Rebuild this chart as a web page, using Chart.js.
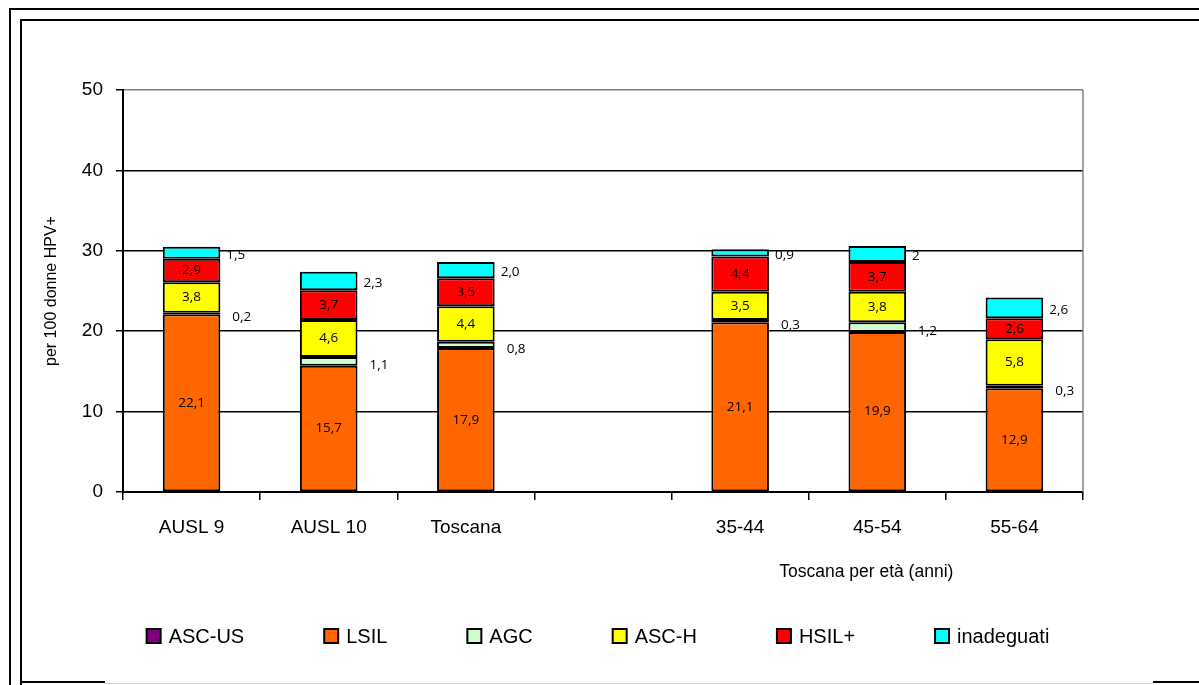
<!DOCTYPE html>
<html lang="it">
<head>
<meta charset="UTF-8"/>
<title>Esiti citologici - donne HPV+</title>
<script src="https://cdn.jsdelivr.net/npm/chart.js"></script>
<style>
    html, body { margin: 0; padding: 0; background: #fff; }
    canvas { display: block; }
</style>
</head>
<body>
<canvas id="grafico" width="1199" height="685"></canvas>

<script>
// dati (per 100 donne HPV+)
const categorie = ['AUSL 9', 'AUSL 10', 'Toscana', '', '35-44', '45-54', '55-64'];
const ascUs      = [0, 0, 0, null, 0, 0, 0];
const lsil       = [22.1, 15.7, 17.9, null, 21.1, 19.9, 12.9];
const agc        = [0.2, 1.1, 0.8, null, 0.3, 1.2, 0.3];
const ascH       = [3.8, 4.6, 4.4, null, 3.5, 3.8, 5.8];
const hsil       = [2.9, 3.7, 3.5, null, 4.4, 3.7, 2.6];
const inadeguati = [1.5, 2.3, 2.0, null, 0.9, 2, 2.6];
const testiInadeguati = ['1,5', '2,3', '2,0', '', '0,9', '2', '2,6'];
const tickY = [0, 10, 20, 30, 40, 50];

const FONT = "'Liberation Sans', Arial, sans-serif";

function formatta(v) {
    return v.toFixed(1).replace('.', ',');
}

// cornici, titoli, legenda ed etichette disegnati a mano
const decorazioni = {
    id: 'decorazioni',
    beforeDraw(chart) {
        const c = chart.ctx;
        c.save();
        c.fillStyle = '#fff';
        c.fillRect(0, 0, chart.width, chart.height);
        c.strokeStyle = '#000';
        c.lineWidth = 2;
        c.beginPath();
        c.moveTo(10, 685); c.lineTo(10, 9); c.lineTo(1199, 9);
        c.moveTo(21, 685); c.lineTo(21, 20); c.lineTo(1199, 20);
        c.moveTo(21, 682); c.lineTo(105, 682);
        c.moveTo(1153, 682); c.lineTo(1199, 682);
        c.stroke();
        c.strokeStyle = '#d0d0d0';
        c.lineWidth = 1;
        c.beginPath();
        c.moveTo(105, 683.5); c.lineTo(1153, 683.5);
        c.stroke();
        c.restore();
    },
    afterDraw(chart) {
        const c = chart.ctx;
        const area = chart.chartArea;
        const xs = chart.scales.x;
        c.save();

        // bordo destro dell'area del grafico
        c.strokeStyle = '#808080';
        c.lineWidth = 1.5;
        c.beginPath();
        c.moveTo(area.right, area.top);
        c.lineTo(area.right, area.bottom);
        c.stroke();

        // titolo asse y
        c.fillStyle = '#000';
        c.font = '16px ' + FONT;
        c.textAlign = 'center';
        c.textBaseline = 'middle';
        c.translate(52, (area.top + area.bottom) / 2);
        c.rotate(-Math.PI / 2);
        c.fillText('per 100 donne HPV+', 0, 0);
        c.setTransform(1, 0, 0, 1, 0, 0);

        // sottotitolo gruppo per età
        c.font = '17.5px ' + FONT;
        c.fillText('Toscana per età (anni)', xs.getPixelForValue(5) - 11, 572);

        // legenda
        c.font = '20px ' + FONT;
        const ds = chart.data.datasets;
        const box = 14, gap = 8, spazio = 80;
        let totale = 0;
        ds.forEach((d, i) => {
            totale += box + gap + c.measureText(d.label).width + (i < ds.length - 1 ? spazio : 0);
        });
        let x = 598 - totale / 2;
        const yl = 636;
        c.textAlign = 'left';
        ds.forEach(d => {
            c.fillStyle = d.backgroundColor;
            c.fillRect(x, yl - box / 2, box, box);
            c.strokeStyle = '#000';
            c.lineWidth = 2;
            c.strokeRect(x, yl - box / 2, box, box);
            c.fillStyle = '#000';
            c.fillText(d.label, x + box + gap, yl + 1);
            x += box + gap + c.measureText(d.label).width + spazio;
        });
        c.restore();
    },
    afterDatasetsDraw(chart) {
        const c = chart.ctx;
        c.save();
        c.font = "13.5px 'Open Sans', sans-serif";
        c.fillStyle = '#000';
        c.textBaseline = 'middle';
        chart.data.datasets.forEach((d, di) => {
            if (!d.posizione) return;
            const meta = chart.getDatasetMeta(di);
            meta.data.forEach((bar, i) => {
                const v = d.data[i];
                if (v === null || v === undefined) return;
                const testo = d.testi ? d.testi[i] : formatta(v);
                const yc = (bar.y + bar.base) / 2;
                if (d.posizione === 'dentro') {
                    c.textAlign = 'center';
                    c.fillText(testo, bar.x, yc);
                } else {
                    c.textAlign = 'left';
                    c.fillText(testo, bar.x + bar.width / 2 + d.dx, yc + d.dy);
                }
            });
        });
        c.restore();
    }
};

const stileBarre = {
    borderColor: '#000',
    borderWidth: 2,
    borderSkipped: false,
    barPercentage: 0.42,
    categoryPercentage: 1
};

const ctx = document.getElementById('grafico').getContext('2d');
new Chart(ctx, {
    type: 'bar',
    data: {
        labels: categorie,
        datasets: [
            { label: 'ASC-US', data: ascUs, backgroundColor: '#800080', ...stileBarre },
            { label: 'LSIL', data: lsil, backgroundColor: '#FF6600', posizione: 'dentro', ...stileBarre },
            { label: 'AGC', data: agc, backgroundColor: '#CCFFCC', posizione: 'fuori', dx: 12, dy: 4, ...stileBarre },
            { label: 'ASC-H', data: ascH, backgroundColor: '#FFFF00', posizione: 'dentro', ...stileBarre },
            { label: 'HSIL+', data: hsil, backgroundColor: '#FF0000', posizione: 'dentro', ...stileBarre },
            { label: 'inadeguati', data: inadeguati, backgroundColor: '#00FFFF', posizione: 'fuori', dx: 6, dy: 2, testi: testiInadeguati, ...stileBarre }
        ]
    },
    options: {
        responsive: false,
        animation: false,
        layout: { padding: { left: 0, top: 90, right: 116, bottom: 0 } },
        plugins: {
            legend: { display: false },
            tooltip: { enabled: false }
        },
        scales: {
            x: {
                stacked: true,
                offset: true,
                grid: { offset: true, drawOnChartArea: false, drawTicks: true, tickLength: 8, color: '#000', lineWidth: 1.5 },
                border: { color: '#000', width: 2 },
                ticks: { color: '#000', font: { family: FONT, size: 19 }, padding: 16, maxRotation: 0, autoSkip: false },
                afterFit(scale) { scale.height = 193; }
            },
            y: {
                stacked: true,
                min: 0,
                max: 50,
                afterBuildTicks(scale) { scale.ticks = tickY.map(v => ({ value: v })); },
                grid: {
                    color: c => (c.tick && c.tick.value === 50 ? '#808080' : '#000'),
                    tickColor: '#000',
                    lineWidth: 1.5,
                    tickLength: 7
                },
                border: { color: '#000', width: 2 },
                ticks: { color: '#000', font: { family: FONT, size: 19 }, padding: 13 },
                afterFit(scale) { scale.width = 123; }
            }
        }
    },
    plugins: [decorazioni]
});
</script>
</body>
</html>
